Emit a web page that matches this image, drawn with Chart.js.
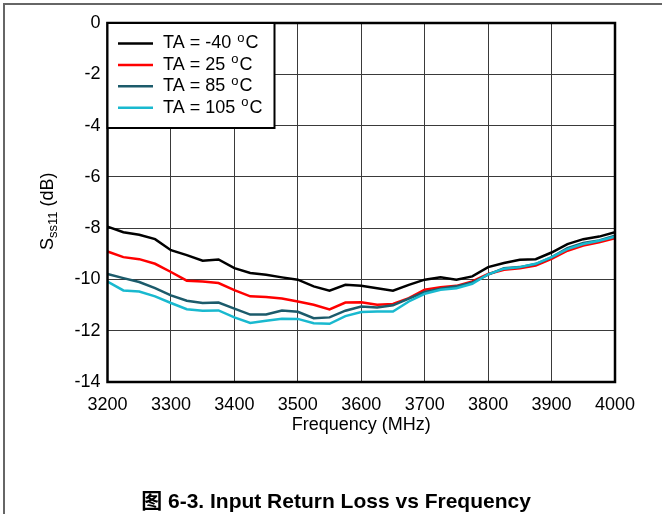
<!DOCTYPE html>
<html>
<head>
<meta charset="utf-8">
<script src="https://cdn.jsdelivr.net/npm/chart.js@4/dist/chart.umd.min.js"></script>
<style>
  html, body { margin: 0; padding: 0; background: #fff; }
  #wrap { position: relative; width: 662px; height: 514px; overflow: hidden; }
  #frame { position: absolute; left: 3px; top: 3px; width: 700px; height: 600px;
           border-left: 2px solid #666; border-top: 2px solid #666; }
  #chart { position: absolute; left: 0; top: 0; }
  #caption { position: absolute; left: 0; width: 672px; top: 484px; text-align: center;
             font: bold 21px "Liberation Sans", Arial, "Noto Sans CJK SC", sans-serif; color: #000; }
</style>
</head>
<body>
<div id="wrap">
  <div id="frame"></div>
  <canvas id="chart" width="662" height="514"></canvas>
  <div id="caption">图 6-3. Input Return Loss vs Frequency</div>
</div>
<script>
// Frequency sweep points (MHz)
const freqMHz = [3200, 3225, 3250, 3275, 3300, 3325, 3350, 3375, 3400, 3425, 3450,
                 3475, 3500, 3525, 3550, 3575, 3600, 3625, 3650, 3675, 3700, 3725,
                 3750, 3775, 3800, 3825, 3850, 3875, 3900, 3925, 3950, 3975, 4000];

// Sss11 (dB) per ambient temperature
const ssMinus40 = [-7.94, -8.16, -8.26, -8.43, -8.86, -9.05, -9.27, -9.22, -9.56, -9.75, -9.82,
                   -9.92, -10.01, -10.27, -10.44, -10.21, -10.25, -10.34, -10.44, -10.21, -10.01, -9.92,
                   -10.01, -9.88, -9.52, -9.36, -9.23, -9.21, -8.95, -8.62, -8.43, -8.33, -8.16];
const ss25 = [-8.91, -9.13, -9.21, -9.39, -9.71, -10.05, -10.08, -10.14, -10.42, -10.66, -10.69,
              -10.74, -10.86, -10.99, -11.17, -10.90, -10.89, -10.99, -10.96, -10.73, -10.40, -10.30,
              -10.25, -10.08, -9.79, -9.62, -9.56, -9.46, -9.20, -8.88, -8.68, -8.55, -8.39];
const ss85 = [-9.79, -9.95, -10.10, -10.34, -10.62, -10.83, -10.92, -10.90, -11.14, -11.37, -11.37,
              -11.21, -11.26, -11.51, -11.48, -11.22, -11.06, -11.09, -11.01, -10.75, -10.49, -10.36,
              -10.27, -10.12, -9.81, -9.56, -9.52, -9.40, -9.14, -8.78, -8.58, -8.48, -8.29];
const ss105 = [-10.08, -10.43, -10.47, -10.66, -10.92, -11.16, -11.22, -11.21, -11.48, -11.70, -11.61,
               -11.53, -11.54, -11.71, -11.73, -11.43, -11.27, -11.25, -11.25, -10.86, -10.56, -10.40,
               -10.34, -10.17, -9.80, -9.58, -9.52, -9.39, -9.13, -8.82, -8.62, -8.49, -8.33];

const temps = ['-40', '25', '85', '105'];
const seriesValues = [ssMinus40, ss25, ss85, ss105];
const seriesColors = ['#000000', '#ff0000', '#1c5b6b', '#19b9cf'];
const drawOrder = [3, 2, 1, 0];

const FONT = '"Liberation Sans", Arial, sans-serif';

const datasets = seriesValues.map((vals, i) => ({
  label: 'TA = ' + temps[i] + ' \u00B0C',
  data: vals.map((v, k) => ({ x: freqMHz[k], y: v })),
  borderColor: seriesColors[i],
  backgroundColor: seriesColors[i],
  borderWidth: 2.5,
  pointRadius: 0,
  tension: 0,
  fill: false,
  order: drawOrder[i]
}));

// Thick plot frame, axis titles and the boxed legend with superscript degree "o"
const decorations = {
  id: 'decorations',
  afterDatasetsDraw(chart) {
    const ctx = chart.ctx;
    const a = chart.chartArea;
    ctx.save();
    ctx.strokeStyle = '#000';
    ctx.lineWidth = 2.5;
    ctx.strokeRect(a.left, a.top, a.right - a.left, a.bottom - a.top);

    // x-axis title
    ctx.fillStyle = '#000';
    ctx.font = '18px ' + FONT;
    ctx.textAlign = 'center';
    ctx.textBaseline = 'middle';
    ctx.fillText('Frequency (MHz)', (a.left + a.right) / 2, 425);

    // y-axis title: S with subscript ss11
    ctx.save();
    ctx.translate(53, 250);
    ctx.rotate(-Math.PI / 2);
    ctx.textAlign = 'left';
    ctx.textBaseline = 'alphabetic';
    ctx.font = '18px ' + FONT;
    ctx.fillText('S', 0, 0);
    let x = ctx.measureText('S').width;
    ctx.font = '13px ' + FONT;
    ctx.fillText('ss11', x, 4);
    x += ctx.measureText('ss11').width;
    ctx.font = '18px ' + FONT;
    ctx.fillText(' (dB)', x, 0);
    ctx.restore();

    // legend
    const bx = a.left, by = a.top, bw = 167, bh = 105;
    ctx.fillStyle = '#fff';
    ctx.fillRect(bx, by, bw, bh);
    ctx.lineWidth = 2;
    ctx.strokeStyle = '#000';
    ctx.strokeRect(bx, by, bw, bh);
    chart.data.datasets.forEach((ds, i) => {
      const y = 43.5 + i * 21.4;
      ctx.strokeStyle = ds.borderColor;
      ctx.lineWidth = 2.5;
      ctx.beginPath();
      ctx.moveTo(118, y);
      ctx.lineTo(153, y);
      ctx.stroke();
      ctx.fillStyle = '#000';
      ctx.textBaseline = 'middle';
      ctx.textAlign = 'left';
      ctx.font = '18px ' + FONT;
      const main = 'TA = ' + temps[i] + ' ';
      ctx.fillText(main, 163, y);
      let tx = 163 + ctx.measureText(main).width + 1;
      ctx.font = '13px ' + FONT;
      ctx.fillText('o', tx, y - 5);
      tx += ctx.measureText('o').width + 1;
      ctx.font = '18px ' + FONT;
      ctx.fillText('C', tx, y);
    });
    ctx.restore();
  }
};

new Chart(document.getElementById('chart'), {
  type: 'line',
  data: { datasets },
  options: {
    responsive: false,
    animation: false,
    layout: { padding: { left: 0, top: 23, right: 47, bottom: 0 } },
    plugins: { legend: { display: false }, tooltip: { enabled: false } },
    scales: {
      x: {
        type: 'linear', min: 3200, max: 4000,
        afterFit(scale) { scale.height = 132; },
        ticks: { stepSize: 100, color: '#000', font: { size: 18, family: FONT }, padding: 12,
                 maxRotation: 0, callback: (v) => String(v) },
        grid: { color: '#3a3a3a', lineWidth: 1, drawTicks: false },
        border: { display: false }
      },
      y: {
        min: -14, max: 0,
        afterFit(scale) { scale.width = 107.5; },
        ticks: { stepSize: 2, color: '#000', font: { size: 18, family: FONT }, padding: 7 },
        grid: { color: '#3a3a3a', lineWidth: 1, drawTicks: false },
        border: { display: false }
      }
    }
  },
  plugins: [decorations]
});
</script>
</body>
</html>
